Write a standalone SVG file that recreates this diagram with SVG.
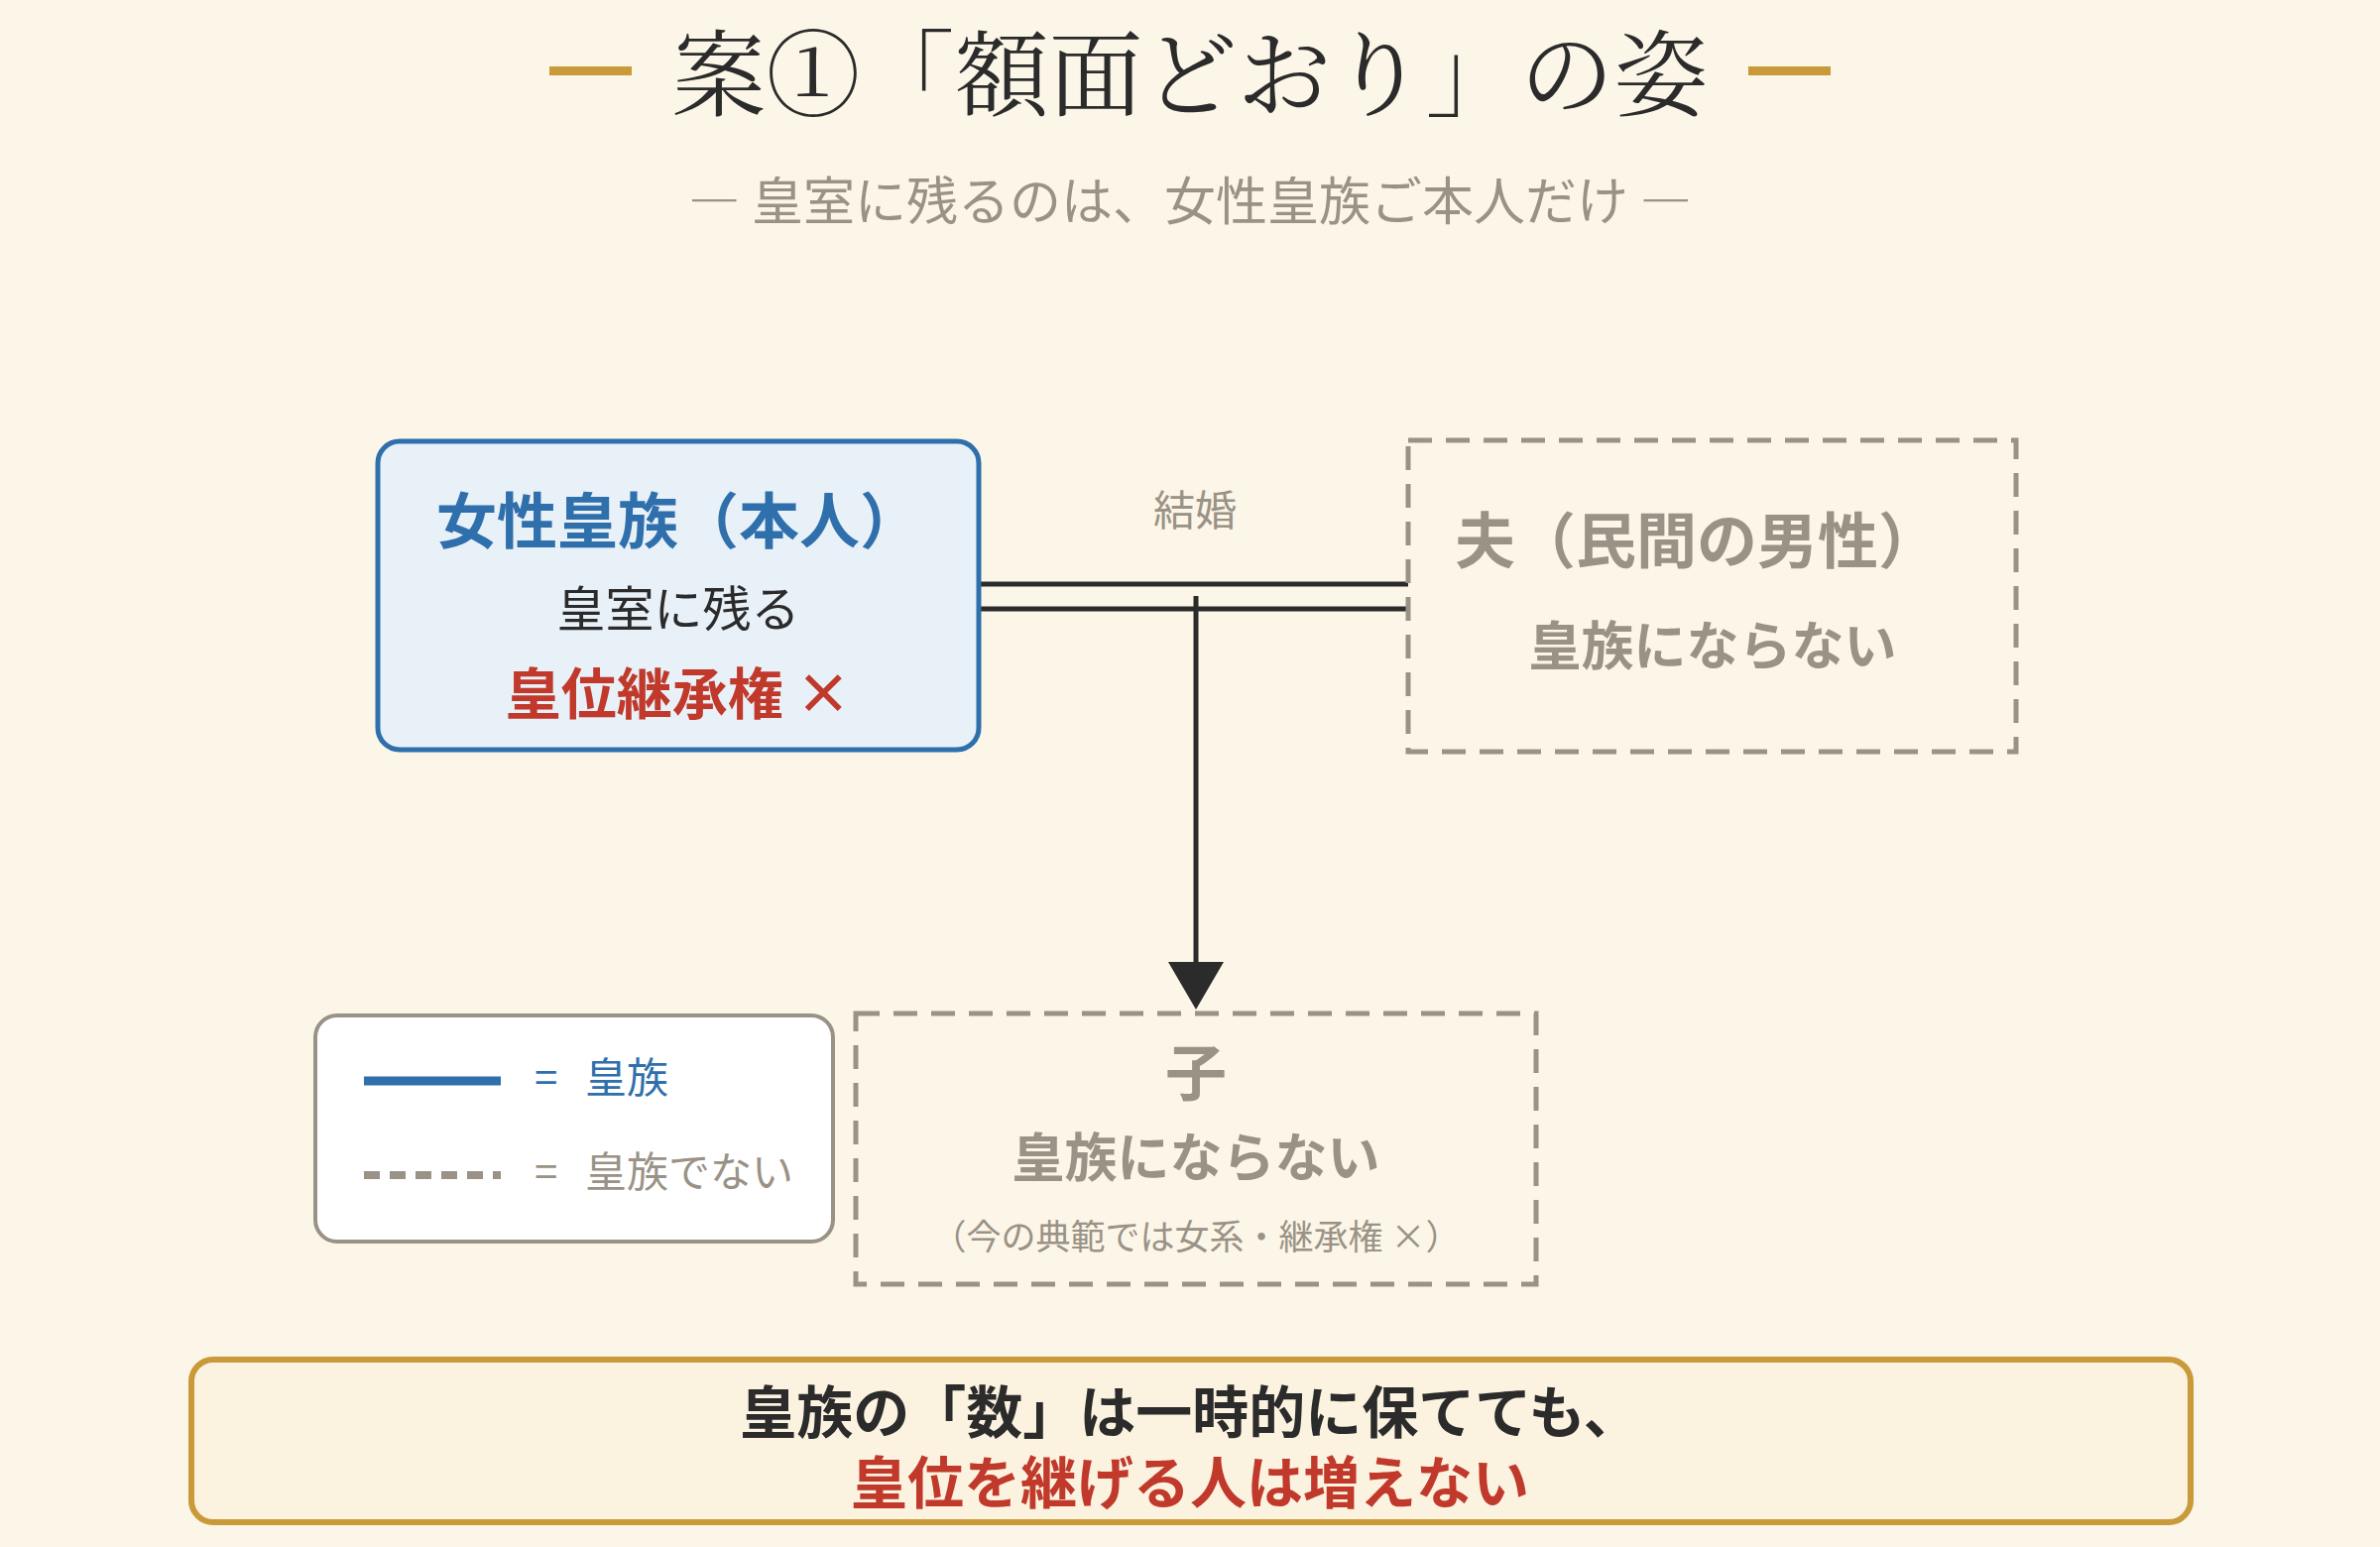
<svg xmlns="http://www.w3.org/2000/svg" width="2400" height="1560" viewBox="0 0 2400 1560">
<defs>
<style>
text{font-family:"Noto Sans CJK JP","Noto Sans",sans-serif;text-anchor:middle}
.b{font-weight:bold}
.gray{fill:#9a9286}
.l{text-anchor:start}
.dash{fill:none;stroke:#9a9286;stroke-width:5;stroke-dasharray:24 14}
</style>
</defs>
<rect width="2400" height="1560" fill="#fcf6e8"/>
<g id="title">
<rect x="554" y="67" width="83" height="9" fill="#c9993a"/>
<rect x="1763" y="67" width="83" height="9" fill="#c9993a"/>
<text x="1200" y="110" font-size="95" fill="#2b2b2b" style="font-family:'Noto Serif CJK JP','Liberation Serif','Noto Sans CJK JP',serif">案①「額面どおり」の姿</text>
<text x="1200" y="222" font-size="52" class="gray">― 皇室に残るのは、女性皇族ご本人だけ ―</text>
</g>
<g id="connectors" stroke="#2b2b2b" stroke-width="5" fill="none">
<line x1="987" y1="589" x2="1420" y2="589"/>
<line x1="987" y1="614" x2="1420" y2="614"/>
<line x1="1206" y1="601" x2="1206" y2="975"/>
<path d="M1178,970 L1234,970 L1206,1018 Z" fill="#2b2b2b" stroke="none"/>
<text x="1205" y="530" font-size="42" class="gray" stroke="none">結婚</text>
</g>
<g id="woman">
<rect x="381" y="445" width="606" height="311" rx="22" fill="#e8f0f8" stroke="#2e6fac" stroke-width="5"/>
<text x="684" y="548" font-size="61" class="b" fill="#2e6fac">女性皇族（本人）</text>
<text x="684" y="632" font-size="49" fill="#2b2b2b">皇室に残る</text>
<text x="684" y="720" font-size="56" class="b" fill="#c0392b">皇位継承権 ×</text>
</g>
<g id="husband">
<rect x="1420" y="444" width="613" height="314" class="dash"/>
<text x="1711" y="568" font-size="61" class="b gray">夫（民間の男性）</text>
<text x="1727" y="671" font-size="53" class="b gray">皇族にならない</text>
</g>
<g id="child">
<rect x="863" y="1022" width="686" height="273" class="dash"/>
<text x="1206" y="1105" font-size="62" class="b gray">子</text>
<text x="1206" y="1187" font-size="53" class="b gray">皇族にならない</text>
<text x="1206" y="1260" font-size="35" class="gray">（今の典範では女系・継承権 ×）</text>
</g>
<g id="legend">
<rect x="318" y="1024" width="522" height="228" rx="22" fill="#fff" stroke="#9a9286" stroke-width="4"/>
<line x1="367" y1="1090" x2="505" y2="1090" stroke="#2e6fac" stroke-width="9"/>
<text x="539" y="1102" font-size="42" fill="#2e6fac" class="l">=</text>
<text x="590" y="1102" font-size="42" fill="#2e6fac" class="l">皇族</text>
<line x1="367" y1="1185" x2="505" y2="1185" stroke="#9a9286" stroke-width="8" stroke-dasharray="16 10"/>
<text x="539" y="1197" font-size="42" class="gray l">=</text>
<text x="590" y="1197" font-size="42" class="gray l">皇族でない</text>
</g>
<g id="summary">
<rect x="193" y="1371" width="2016" height="164" rx="22" fill="#fbf3e0" stroke="#c9993a" stroke-width="6"/>
<text x="1200" y="1445" font-size="57" class="b" fill="#2b2b2b">皇族の「数」は一時的に保てても、</text>
<text x="1200" y="1516" font-size="57" class="b" fill="#c0392b">皇位を継げる人は増えない</text>
</g>
</svg>
